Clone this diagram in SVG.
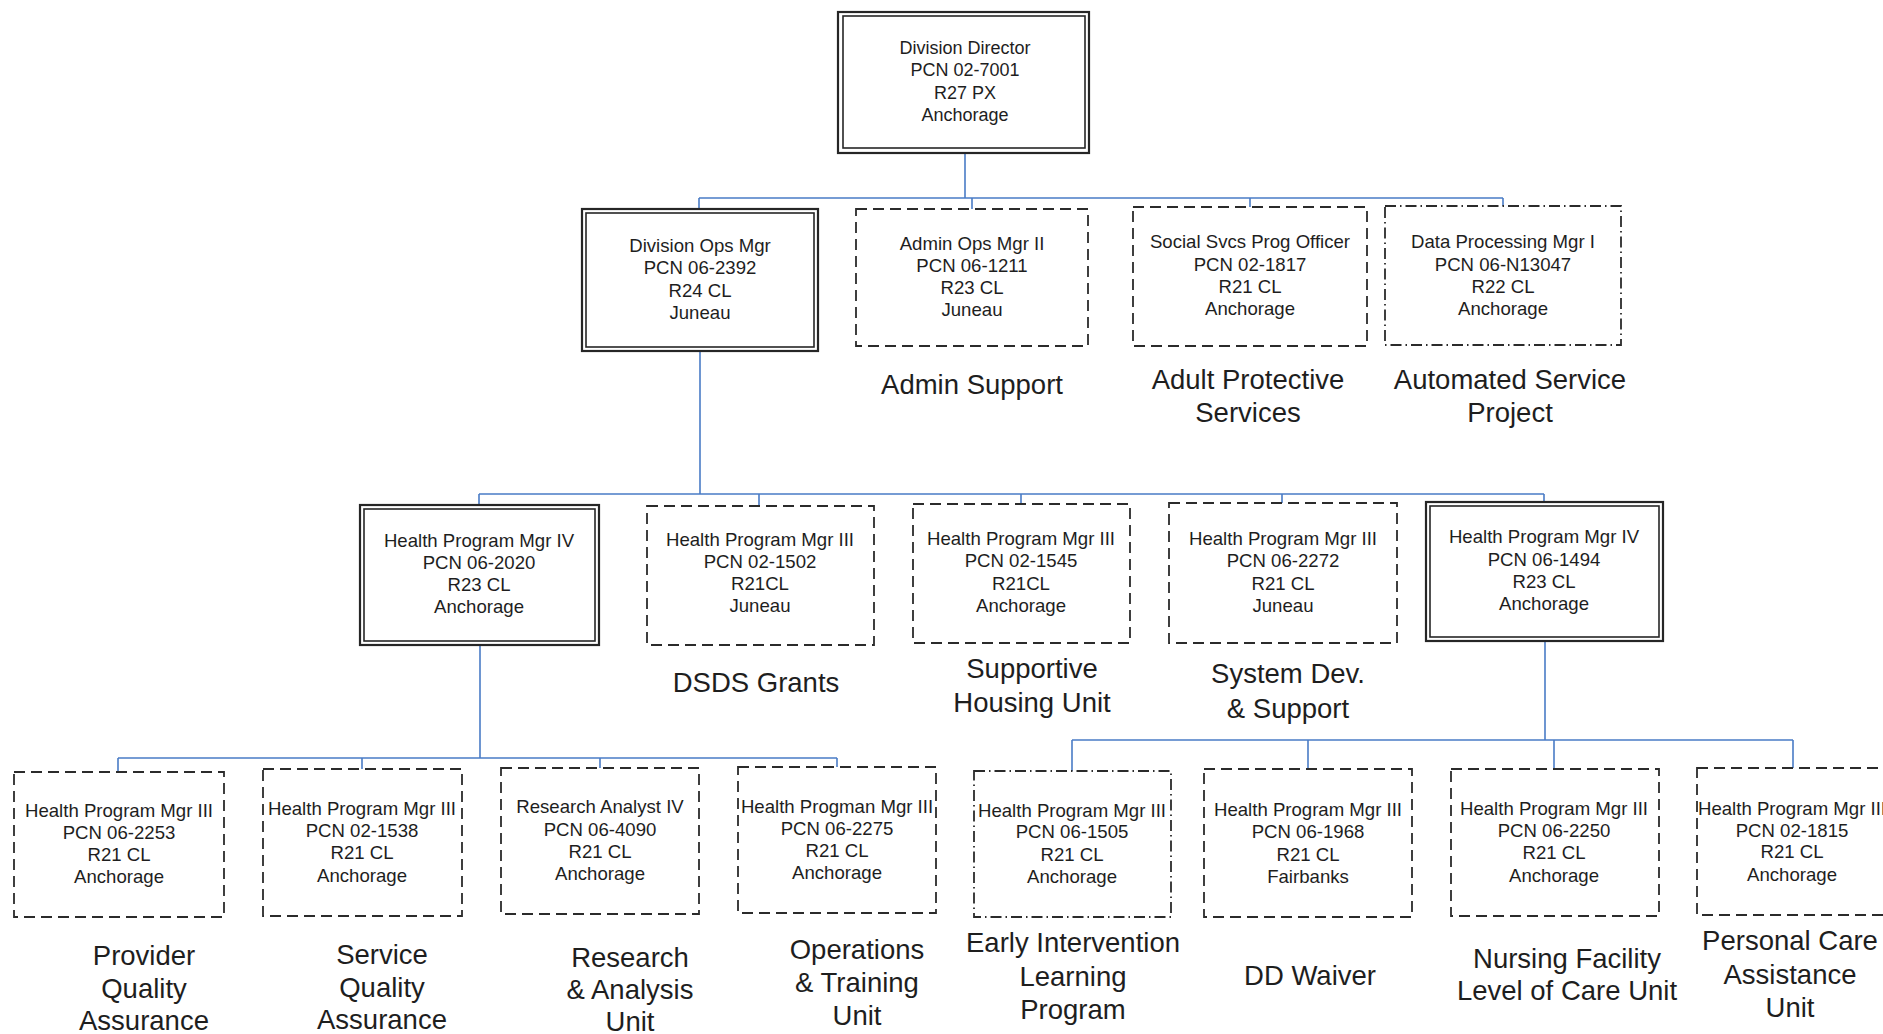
<svg xmlns="http://www.w3.org/2000/svg" width="1883" height="1034" viewBox="0 0 1883 1034">
<style>
.bg{fill:#ffffff}
.o{fill:#ffffff;stroke:#262626;stroke-width:2.2}
.i{fill:none;stroke:#262626;stroke-width:1.6}
.d{fill:#ffffff;stroke:#2b2b2b;stroke-width:1.8;stroke-dasharray:11 6}
.dd{fill:#ffffff;stroke:#2b2b2b;stroke-width:1.8;stroke-dasharray:11 4 1.5 4}
.c{fill:none;stroke:#4a7cc6;stroke-width:1.6}
.t{font-family:"Liberation Sans",Arial,sans-serif;font-size:18.6px;fill:#1e1e1e;text-anchor:middle}
.l{font-family:"Liberation Sans",Arial,sans-serif;font-size:27.5px;fill:#1e1e1e;text-anchor:middle}
</style>
<rect class="bg" x="0" y="0" width="1883" height="1034"/>

<g id="connectors">
<path class="c" d="M965 153V198M699 198H1503M699 198V209M972 198V209M1250 198V207M1503 198V206"/>
<path class="c" d="M700 351V494M479 494H1544M479 494V505M759 494V506M1021 494V504M1282 494V503M1544 494V502"/>
<path class="c" d="M480 645V758M118 758H837M118 758V772M362 758V769M600 758V768M837 758V767"/>
<path class="c" d="M1545 641V740M1072 740H1793M1072 740V771M1308 740V769M1554 740V769M1793 740V768"/>
</g>

<g id="director">
<rect class="o" x="838" y="12" width="251" height="141"/>
<rect class="i" x="843" y="16" width="242" height="132"/>
<text class="t" style="font-size:18px"><tspan x="965" y="54">Division Director</tspan><tspan x="965" y="76">PCN 02-7001</tspan><tspan x="965" y="99">R27 PX</tspan><tspan x="965" y="121">Anchorage</tspan></text>
</g>

<g id="ops-mgr">
<rect class="o" x="582" y="209" width="236" height="142"/>
<rect class="i" x="586" y="213" width="228" height="134"/>
<text class="t"><tspan x="700" y="251.5">Division Ops Mgr</tspan><tspan x="700" y="274">PCN 06-2392</tspan><tspan x="700" y="296.5">R24 CL</tspan><tspan x="700" y="319">Juneau</tspan></text>
</g>

<g id="admin-ops">
<rect class="d" x="856" y="209" width="232" height="137"/>
<text class="t"><tspan x="972" y="249.5">Admin Ops Mgr II</tspan><tspan x="972" y="271.5">PCN 06-1211</tspan><tspan x="972" y="293.5">R23 CL</tspan><tspan x="972" y="316">Juneau</tspan></text>
<text class="l"><tspan x="972" y="394">Admin Support</tspan></text>
</g>

<g id="social-svcs">
<rect class="d" x="1133" y="207" width="234" height="139"/>
<text class="t"><tspan x="1250" y="248">Social Svcs Prog Officer</tspan><tspan x="1250" y="271">PCN 02-1817</tspan><tspan x="1250" y="293">R21 CL</tspan><tspan x="1250" y="315">Anchorage</tspan></text>
<text class="l"><tspan x="1248" y="389">Adult Protective</tspan><tspan x="1248" y="422">Services</tspan></text>
</g>

<g id="data-proc">
<rect class="dd" x="1385" y="206" width="236" height="139"/>
<text class="t"><tspan x="1503" y="248">Data Processing Mgr I</tspan><tspan x="1503" y="271">PCN 06-N13047</tspan><tspan x="1503" y="293">R22 CL</tspan><tspan x="1503" y="315">Anchorage</tspan></text>
<text class="l"><tspan x="1510" y="389">Automated Service</tspan><tspan x="1510" y="422">Project</tspan></text>
</g>

<g id="hpm-2020">
<rect class="o" x="360" y="505" width="239" height="140"/>
<rect class="i" x="364" y="509" width="231" height="132"/>
<text class="t"><tspan x="479" y="547">Health Program Mgr IV</tspan><tspan x="479" y="569">PCN 06-2020</tspan><tspan x="479" y="591">R23 CL</tspan><tspan x="479" y="613">Anchorage</tspan></text>
</g>

<g id="hpm-1502">
<rect class="d" x="647" y="506" width="227" height="139"/>
<text class="t"><tspan x="760" y="546">Health Program Mgr III</tspan><tspan x="760" y="568">PCN 02-1502</tspan><tspan x="760" y="590">R21CL</tspan><tspan x="760" y="612">Juneau</tspan></text>
<text class="l"><tspan x="756" y="692">DSDS Grants</tspan></text>
</g>

<g id="hpm-1545">
<rect class="d" x="913" y="504" width="217" height="139"/>
<text class="t"><tspan x="1021" y="545">Health Program Mgr III</tspan><tspan x="1021" y="567">PCN 02-1545</tspan><tspan x="1021" y="590">R21CL</tspan><tspan x="1021" y="612">Anchorage</tspan></text>
<text class="l"><tspan x="1032" y="678">Supportive</tspan><tspan x="1032" y="712">Housing Unit</tspan></text>
</g>

<g id="hpm-2272">
<rect class="d" x="1169" y="503" width="228" height="140"/>
<text class="t"><tspan x="1283" y="545">Health Program Mgr III</tspan><tspan x="1283" y="567">PCN 06-2272</tspan><tspan x="1283" y="590">R21 CL</tspan><tspan x="1283" y="612">Juneau</tspan></text>
<text class="l"><tspan x="1288" y="683">System Dev.</tspan><tspan x="1288" y="718">&amp; Support</tspan></text>
</g>

<g id="hpm-1494">
<rect class="o" x="1426" y="502" width="237" height="139"/>
<rect class="i" x="1430" y="506" width="229" height="131"/>
<text class="t"><tspan x="1544" y="543">Health Program Mgr IV</tspan><tspan x="1544" y="566">PCN 06-1494</tspan><tspan x="1544" y="588">R23 CL</tspan><tspan x="1544" y="610">Anchorage</tspan></text>
</g>

<g id="hpm-2253">
<rect class="d" x="14" y="772" width="210" height="145"/>
<text class="t"><tspan x="119" y="817">Health Program Mgr III</tspan><tspan x="119" y="839">PCN 06-2253</tspan><tspan x="119" y="861">R21 CL</tspan><tspan x="119" y="883">Anchorage</tspan></text>
<text class="l"><tspan x="144" y="965">Provider</tspan><tspan x="144" y="998">Quality</tspan><tspan x="144" y="1030">Assurance</tspan></text>
</g>

<g id="hpm-1538">
<rect class="d" x="263" y="769" width="199" height="147"/>
<text class="t"><tspan x="362" y="815">Health Program Mgr III</tspan><tspan x="362" y="837">PCN 02-1538</tspan><tspan x="362" y="859">R21 CL</tspan><tspan x="362" y="882">Anchorage</tspan></text>
<text class="l"><tspan x="382" y="964">Service</tspan><tspan x="382" y="997">Quality</tspan><tspan x="382" y="1029">Assurance</tspan></text>
</g>

<g id="ra-4090">
<rect class="d" x="501" y="768" width="198" height="146"/>
<text class="t"><tspan x="600" y="813">Research Analyst IV</tspan><tspan x="600" y="836">PCN 06-4090</tspan><tspan x="600" y="858">R21 CL</tspan><tspan x="600" y="880">Anchorage</tspan></text>
<text class="l"><tspan x="630" y="967">Research</tspan><tspan x="630" y="999">&amp; Analysis</tspan><tspan x="630" y="1031">Unit</tspan></text>
</g>

<g id="hpm-2275">
<rect class="d" x="738" y="767" width="198" height="146"/>
<text class="t"><tspan x="837" y="813">Health Progman Mgr III</tspan><tspan x="837" y="835">PCN 06-2275</tspan><tspan x="837" y="857">R21 CL</tspan><tspan x="837" y="879">Anchorage</tspan></text>
<text class="l"><tspan x="857" y="959">Operations</tspan><tspan x="857" y="992">&amp; Training</tspan><tspan x="857" y="1025">Unit</tspan></text>
</g>

<g id="hpm-1505">
<rect class="dd" x="974" y="771" width="197" height="146"/>
<text class="t"><tspan x="1072" y="817">Health Program Mgr III</tspan><tspan x="1072" y="838">PCN 06-1505</tspan><tspan x="1072" y="861">R21 CL</tspan><tspan x="1072" y="883">Anchorage</tspan></text>
<text class="l"><tspan x="1073" y="952">Early Intervention</tspan><tspan x="1073" y="986">Learning</tspan><tspan x="1073" y="1019">Program</tspan></text>
</g>

<g id="hpm-1968">
<rect class="d" x="1204" y="769" width="208" height="148"/>
<text class="t"><tspan x="1308" y="816">Health Program Mgr III</tspan><tspan x="1308" y="838">PCN 06-1968</tspan><tspan x="1308" y="861">R21 CL</tspan><tspan x="1308" y="883">Fairbanks</tspan></text>
<text class="l"><tspan x="1310" y="985">DD Waiver</tspan></text>
</g>

<g id="hpm-2250">
<rect class="d" x="1451" y="769" width="208" height="147"/>
<text class="t"><tspan x="1554" y="815">Health Program Mgr III</tspan><tspan x="1554" y="837">PCN 06-2250</tspan><tspan x="1554" y="859">R21 CL</tspan><tspan x="1554" y="882">Anchorage</tspan></text>
<text class="l"><tspan x="1567" y="968">Nursing Facility</tspan><tspan x="1567" y="1000">Level of Care Unit</tspan></text>
</g>

<g id="hpm-1815">
<rect class="d" x="1697" y="768" width="198" height="147"/>
<text class="t"><tspan x="1792" y="815">Health Program Mgr III</tspan><tspan x="1792" y="837">PCN 02-1815</tspan><tspan x="1792" y="858">R21 CL</tspan><tspan x="1792" y="881">Anchorage</tspan></text>
<text class="l"><tspan x="1790" y="950">Personal Care</tspan><tspan x="1790" y="984">Assistance</tspan><tspan x="1790" y="1017">Unit</tspan></text>
</g>
</svg>
